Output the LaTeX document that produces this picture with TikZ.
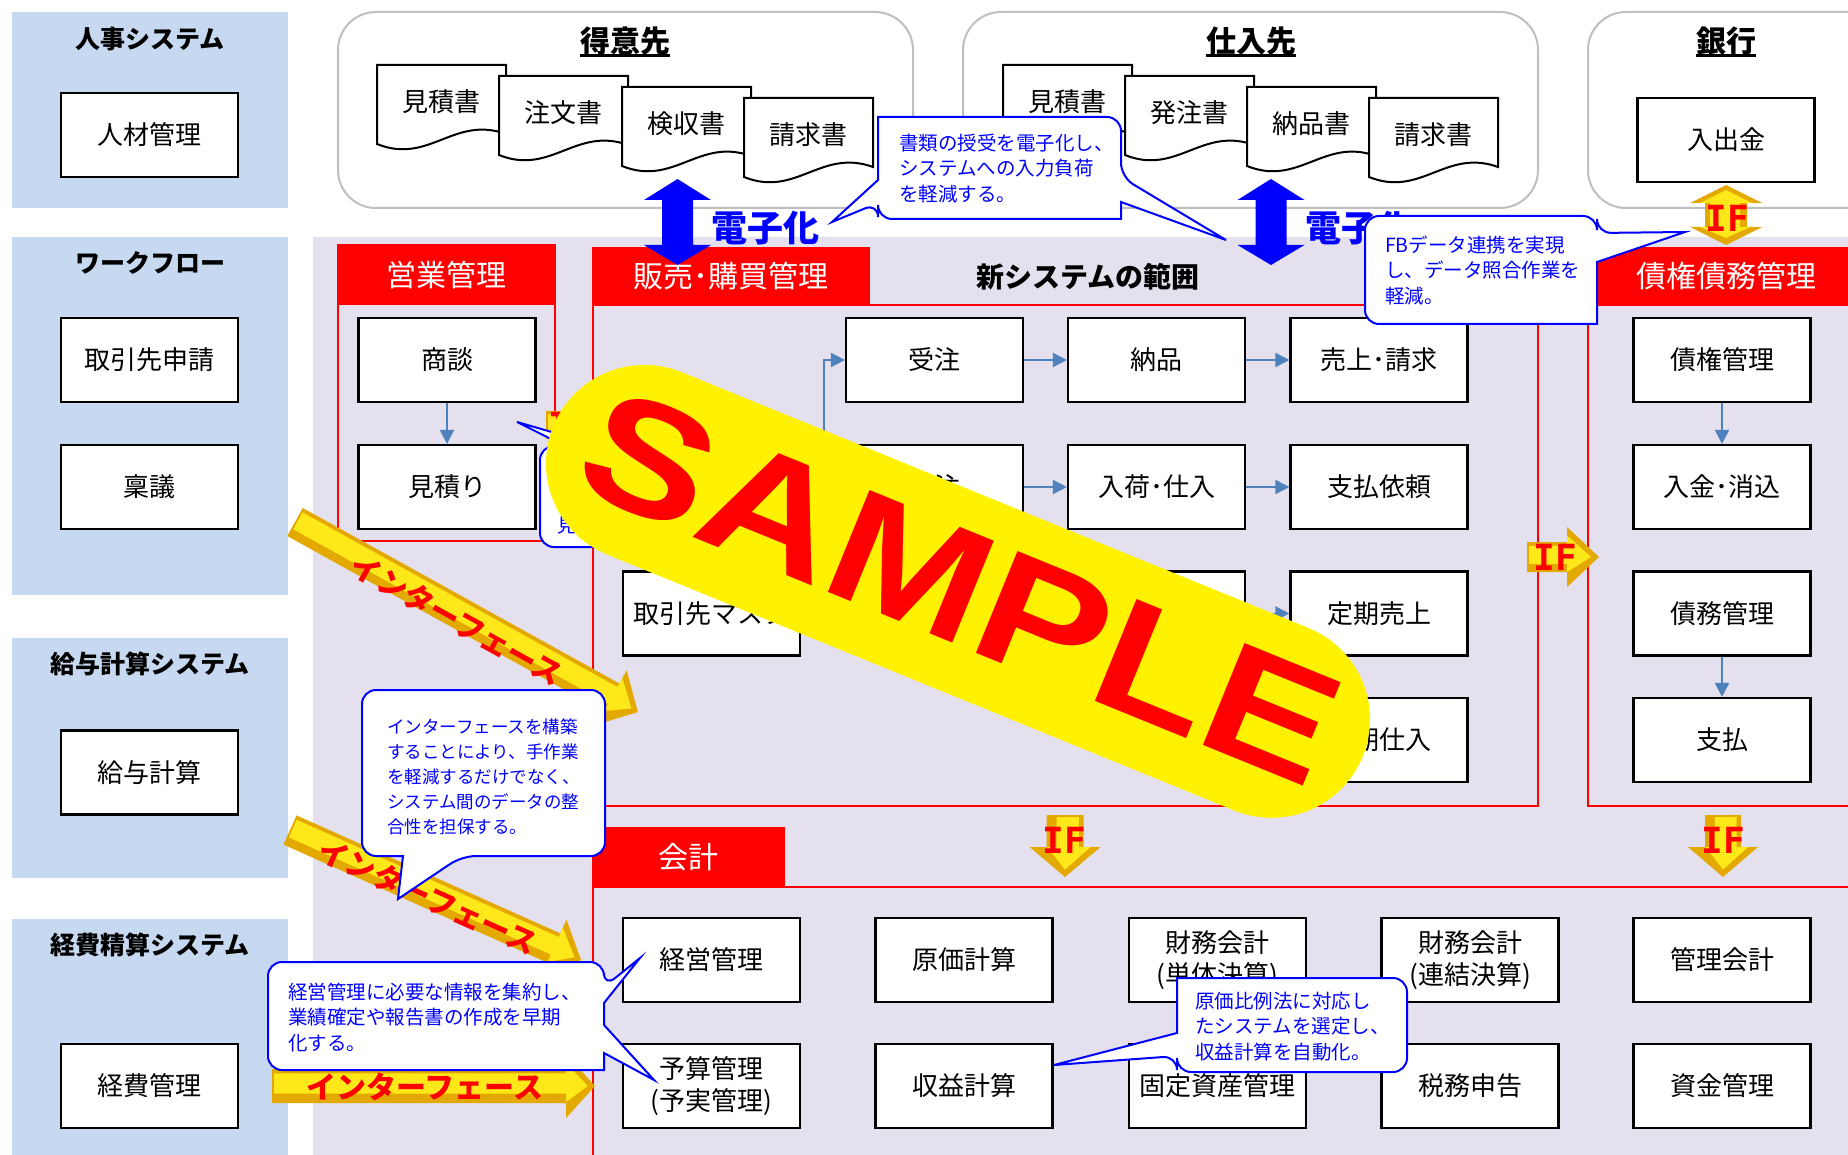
\documentclass[tikz,border=0pt]{standalone}
\usepackage{fontspec}
\usepackage{graphicx}
\setmainfont{Noto Sans CJK JP}
\newfontfamily\samplefont{Liberation Sans}
\newfontfamily\iffont{DejaVu Sans Mono}
\usetikzlibrary{arrows.meta}
\definecolor{panelblue}{HTML}{C6D9F1}
\definecolor{lav}{HTML}{E4E0EE}
\definecolor{flowblue}{HTML}{4F81BD}
\definecolor{goldA}{HTML}{E3A900}
\definecolor{goldB}{HTML}{FFE81A}
\definecolor{topgray}{HTML}{BFBFBF}
\definecolor{cblue}{HTML}{0000FF}
\newcommand{\myfs}[2]{\fontsize{#1}{#2}\selectfont}
% x, y, angle, length, shaft half, head half, head length
\newcommand{\goldarrow}[7]{%
  \begin{scope}[shift={(#1,#2)},rotate=#3]
    \fill[goldA] (0,{-#5}) -- ({#4-#7},{-#5}) -- ({#4-#7},{-#6}) -- (#4,0) -- ({#4-#7},#6) -- ({#4-#7},#5) -- (0,#5) -- cycle;
    \fill[goldB] (2,{-0.75*#5}) -- ({#4-#7},{-0.75*#5}) -- ({#4-#7},{-0.72*#6}) -- ({#4-0.25*#7},0) -- ({#4-#7},{0.5*#6}) -- ({#4-#7},{0.45*#5}) -- (2,{0.45*#5}) -- cycle;
  \end{scope}}
\newcommand{\bluedbl}[1]{%
  \fill[cblue] (#1,179) -- ({#1+33.5},200) -- ({#1+15.5},200) -- ({#1+15.5},245) -- ({#1+33.5},245) -- (#1,265) -- ({#1-33.5},245) -- ({#1-15.5},245) -- ({#1-15.5},200) -- ({#1-33.5},200) -- cycle;}
% x, y, text, name
\newcommand{\docu}[4]{%
  \draw[docline] (#1,#2) -- ({#1+129},#2) -- ({#1+129},{#2+69}) .. controls ({#1+77},{#2+50}) and ({#1+52},{#2+100}) .. (#1,{#2+79}) -- cycle;
  \node[doctext] (#4) at ({#1+64},{#2+37}) {#3};}
\begin{document}
\begin{tikzpicture}[x=1pt,y=-1pt,
  wbox/.style={draw=black, line width=2.2, fill=white, minimum width=177, minimum height=84, inner sep=0, font=\myfs{26}{32}, align=center},
  ptitle/.style={font=\bfseries\myfs{25}{30}, inner sep=0},
  topbox/.style={draw=topgray, line width=2, fill=white, rounded corners=38},
  ttitle/.style={font=\bfseries\myfs{30}{34}, inner sep=0},
  docline/.style={draw=black, line width=2, fill=white},
  doctext/.style={font=\myfs{26}{30}, inner sep=0},
  redhead/.style={fill=red, text=white, font=\myfs{30}{34}, inner sep=0},
  redframe/.style={draw=red, line width=2.5},
  flow/.style={draw=flowblue, line width=2, -{Triangle[length=14pt,width=14pt]}},
  co/.style={draw=cblue, line width=2, fill=white},
  cotext/.style={text=cblue, font=\myfs{19.5}{25.5}, align=left, anchor=north west, inner sep=0},
  iflabel/.style={text=red, font=\iffont\bfseries\myfs{36}{36}, inner sep=0},
  ifbig/.style={text=red, font=\bfseries\myfs{30}{32}, inner sep=0},
  denshi/.style={text=cblue, font=\bfseries\myfs{36}{40}, inner sep=0}
]
\useasboundingbox (0,0) rectangle (1848,1155);
\clip (0,0) rectangle (1848,1155);
\fill[white] (0,0) rectangle (1848,1155);
\fill[lav] (313,237) rectangle (1848,1155);
% left panels
\fill[panelblue] (12,12) rectangle (288,208);
\fill[panelblue] (12,237) rectangle (288,595);
\fill[panelblue] (12,638) rectangle (288,878);
\fill[panelblue] (12,919) rectangle (288,1155);
\node[ptitle] (pt1) at (150,39) {人事システム};
\node[ptitle] (pt2) at (150,263) {ワークフロー};
\node[ptitle] (pt3) at (150,664) {給与計算システム};
\node[ptitle] (pt4) at (150,945) {経費精算システム};
\node[wbox] (jinzai) at (149.5,135) {人材管理};
\node[wbox] (shinsei) at (149.5,360) {取引先申請};
\node[wbox] (ringi) at (149.5,487) {稟議};
\node[wbox] (kyuyo) at (149.5,772.5) {給与計算};
\node[wbox] (keihi) at (149.5,1086) {経費管理};
% top partner boxes
\draw[topbox] (338,12) rectangle (913,208);
\draw[topbox] (963,12) rectangle (1538,208);
\draw[topbox] (1588,12) rectangle (1900,208);
\node[ttitle] (tokui) at (625,41) {得意先};
\node[ttitle] (shiire) at (1251,41) {仕入先};
\node[ttitle] (ginko) at (1726,41) {銀行};
\draw[line width=2.5] (tokui.south west) -- (tokui.south east);
\draw[line width=2.5] (shiire.south west) -- (shiire.south east);
\draw[line width=2.5] (ginko.south west) -- (ginko.south east);
\docu{377}{65}{見積書}{dA1}
\docu{499}{76}{注文書}{dA2}
\docu{622}{87}{検収書}{dA3}
\docu{744}{98}{請求書}{dA4}
\docu{1003}{65}{見積書}{dB1}
\docu{1125}{76}{発注書}{dB2}
\docu{1247}{87}{納品書}{dB3}
\docu{1369}{98}{請求書}{dB4}
\node[wbox] (nyushukkin) at (1726,140) {入出金};
% frames and headers
\draw[redframe] (338,245) rectangle (555,541);
\node[redhead, minimum width=217, minimum height=60] (eigyoH) at (446.5,275) {営業管理};
\draw[redframe] (593,305) rectangle (1538,806);
\node[redhead, minimum width=278, minimum height=58] (hanbaiH) at (731,276) {販売･購買管理};
\draw[redframe] (1588,305) rectangle (1880,806);
\node[redhead, minimum width=276, minimum height=58] (saikenH) at (1726,276) {債権債務管理};
\draw[redframe] (593,887) rectangle (1880,1180);
\node[redhead, minimum width=193, minimum height=60] (kaikeiH) at (688.5,857) {会計};
\node[font=\bfseries\myfs{28}{32}, inner sep=0] (newsys) at (1088,277) {新システムの範囲};
% sales
\node[wbox] (shodan) at (447,360) {商談};
\node[wbox] (mitsumori) at (447,487) {見積り};
% hanbai
\node[wbox] (juchu) at (934.5,360) {受注};
\node[wbox] (nohin) at (1156.5,360) {納品};
\node[wbox] (uriage) at (1379,360) {売上･請求};
\node[wbox] (hatchu) at (934.5,487) {発注};
\node[wbox] (nyuka) at (1156.5,487) {入荷･仕入};
\node[wbox] (shiharaiirai) at (1379,487) {支払依頼};
\node[wbox] (master) at (711.5,613.5) {取引先マスタ};
\node[wbox] (rthree) at (1156.5,613.5) {};
\node[wbox] (teikiuri) at (1379,613.5) {定期売上};
\node[wbox] (teikishi) at (1379,740) {定期仕入};
% saiken
\node[wbox] (saiken) at (1722,360) {債権管理};
\node[wbox] (nyukin) at (1722,487) {入金･消込};
\node[wbox] (saimu) at (1722,613.5) {債務管理};
\node[wbox] (shiharai) at (1722,740) {支払};
% kaikei
\node[wbox] (keiei) at (711.5,960) {経営管理};
\node[wbox] (genka) at (964,960) {原価計算};
\node[wbox] (tantai) at (1217.5,960) {財務会計\\(単体決算)};
\node[wbox] (renketsu) at (1470,960) {財務会計\\(連結決算)};
\node[wbox] (kanri) at (1722,960) {管理会計};
\node[wbox] (yosan) at (711.5,1086) {予算管理\\(予実管理)};
\node[wbox] (shueki) at (964,1086) {収益計算};
\node[wbox] (kotei) at (1217.5,1086) {固定資産管理};
\node[wbox] (zeimu) at (1470,1086) {税務申告};
\node[wbox] (shikin) at (1722,1086) {資金管理};
% flows
\draw[flow] (shodan) -- (mitsumori);
\draw[flow] (juchu) -- (nohin);
\draw[flow] (nohin) -- (uriage);
\draw[flow] (hatchu) -- (nyuka);
\draw[flow] (nyuka) -- (shiharaiirai);
\draw[flow] (rthree) -- (teikiuri);
\draw[flow] (saiken) -- (nyukin);
\draw[flow] (saimu) -- (shiharai);
\coordinate (br) at (824,423);
\draw[flow] (br) |- (juchu);
\draw[flow] (br) |- (hatchu);
% IF arrows
\fill[goldA] (1726,185) -- (1762,203) -- (1747,203) -- (1747,227) -- (1762,227) -- (1726,245) -- (1690,227) -- (1705,227) -- (1705,203) -- (1690,203) -- cycle;
\fill[goldB] (1726,190) -- (1752,203) -- (1740,203) -- (1740,227) -- (1750,227) -- (1726,238) -- (1700,227) -- (1710,227) -- (1710,203) -- (1700,203) -- cycle;
\node[iflabel] (ifbank) at (1727,218) {IF};
\goldarrow{1527}{557}{0}{72}{15}{30}{32}
\node[iflabel] (ifright) at (1555,557) {IF};
\goldarrow{1065}{815}{-90}{62}{18.5}{35.5}{30}
\node[iflabel] (ifdownA) at (1064,840) {IF};
\goldarrow{1723}{815}{-90}{62}{18}{35}{30}
\node[iflabel] (ifdownB) at (1723,840) {IF};
\goldarrow{546}{425}{0}{58}{14}{28}{26}
\node[iflabel] (ifsales) at (570,425) {IF};
% blue electronic arrows
\bluedbl{677.5}
\bluedbl{1271}
\node[denshi] (dz1) at (765,228) {電子化};
\node[denshi] (dz2) at (1359,228) {電子化};
% interface arrows
\goldarrow{295}{522}{-29}{392}{16}{31}{30}
\node[ifbig, rotate=-29] (ifA) at (457,620) {インターフェース};
\goldarrow{290}{830}{-24.1}{319}{16}{31}{30}
\node[ifbig, rotate=-24.1] (ifB) at (428,896.5) {インターフェース};
\goldarrow{272}{1086}{0}{323}{17}{32}{29}
\node[ifbig] (ifC) at (425,1087) {インターフェース};
% callouts
\draw[co] (1000,117) [rounded corners=14] -- (1121,117) -- (1121,177) [sharp corners] -- (1226,240) -- (1121,202) -- (1121,219) [rounded corners=14] -- (878,219) -- (878,203) [sharp corners] -- (832,222) -- (878,180) -- (878,117) [rounded corners=14] -- cycle;
\node[cotext] (c1t) at (899,133.5) {書類の授受を電子化し、\\システムへの入力負荷\\を軽減する。};
\draw[co] (1480,216) [rounded corners=14] -- (1597,216) -- (1597,233) [sharp corners] -- (1685,232) -- (1597,262) -- (1597,324) [rounded corners=14] -- (1365,324) -- (1365,216) -- cycle;
\node[cotext] (c2t) at (1385,235.5) {FBデータ連携を実現\\し、データ照合作業を\\軽減。};
\draw[co] (480,690) [rounded corners=14] -- (605,690) -- (605,856) -- (462,856) [sharp corners] -- (398,899) -- (403,856) -- (380,856) [rounded corners=14] -- (362,856) -- (362,690) -- cycle;
\node[cotext, font=\myfs{17.5}{25}] (c3t) at (387,718.5) {インターフェースを構築\\することにより、手作業\\を軽減するだけでなく、\\システム間のデータの整\\合性を担保する。};
\draw[co] (430,962) [rounded corners=14] -- (604,962) -- (604,987) [sharp corners] -- (640,958) -- (604,1003) -- (604,1025) -- (654,1080) -- (604,1053) -- (604,1070) [rounded corners=14] -- (268,1070) -- (268,962) -- cycle;
\node[cotext] (c4t) at (288,982.5) {経営管理に必要な情報を集約し、\\業績確定や報告書の作成を早期\\化する。};
\draw[co] (1300,978) [rounded corners=14] -- (1407,978) -- (1407,1072) -- (1177,1072) -- (1177,1056) [sharp corners] -- (1054,1065) -- (1177,1033) -- (1177,978) [rounded corners=14] -- cycle;
\node[cotext] (c5t) at (1195,991.5) {原価比例法に対応し\\たシステムを選定し、\\収益計算を自動化。};
\draw[co] (650,446) [rounded corners=14] -- (760,446) -- (760,547) -- (540,547) -- (540,446) -- (565,446) [sharp corners] -- (517,422) -- (600,446) -- (640,446) [rounded corners=14] -- cycle;
\node[text=cblue, font=\myfs{19.5}{25.5}, inner sep=0, anchor=west] (c6t) at (557,525) {見};
% SAMPLE stamp
\coordinate (stL) at (644.5,463.4);
\coordinate (stR) at (1271.5,719.3);
\draw[yellow, line width=197, line cap=round] (stL) -- (stR);
\node[rotate=-22.2, text=red, font=\samplefont\bfseries\myfs{160}{160}, inner sep=0] (stamp) at (961,587) {\scalebox{1.2}[1]{SAMPLE}};
\end{tikzpicture}
\end{document}
